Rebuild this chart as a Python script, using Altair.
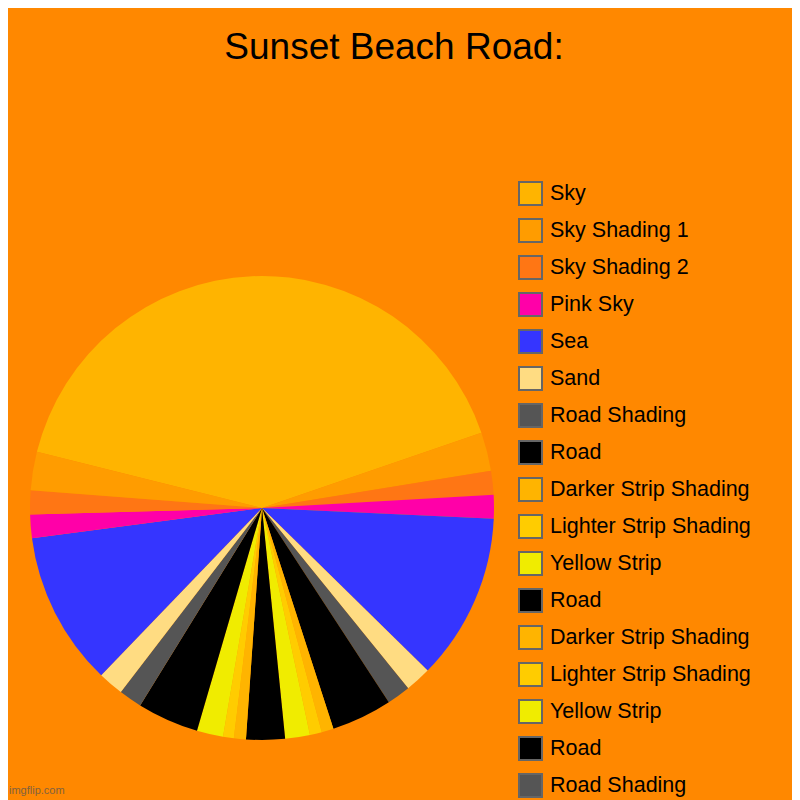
import math
import pandas as pd
import altair as alt

title_text = "Sunset Beach Road:"
watermark = "imgflip.com"

# slices in drawing order (clockwise), sizes in degrees
names = [
    "Sky", "Sky Shading 1", "Sky Shading 2", "Pink Sky", "Sea", "Sand",
    "Road Shading", "Road", "Darker Strip Shading", "Lighter Strip Shading",
    "Yellow Strip", "Road", "Darker Strip Shading", "Lighter Strip Shading",
    "Yellow Strip", "Road", "Road Shading", "Sand", "Sea", "Pink Sky",
    "Sky Shading 2", "Sky Shading 1",
]
sizes = [
    147.0, 9.7, 6.0, 5.9, 41.8, 6.5,
    5.9, 15.2, 3.0, 3.0,
    6.2, 9.7, 3.0, 2.7,
    6.6, 15.4, 5.8, 6.4, 38.6, 5.9,
    6.0, 9.6,
]
palette = {
    "Sky": "#FFB400",
    "Sky Shading 1": "#FF9C00",
    "Sky Shading 2": "#FF7614",
    "Pink Sky": "#FF00A8",
    "Sea": "#3535FF",
    "Sand": "#FFDC82",
    "Road Shading": "#555555",
    "Road": "#000000",
    "Darker Strip Shading": "#FFB400",
    "Lighter Strip Shading": "#FFCC00",
    "Yellow Strip": "#F0EC00",
}

keys = [f"{i:02d}|{n}" for i, n in enumerate(names)]
df = pd.DataFrame({"key": keys, "idx": range(len(names)), "deg": sizes})

start = math.radians(284.0)

pie = alt.Chart(df).mark_arc(outerRadius=232).encode(
    x=alt.value(254),
    y=alt.value(500),
    theta=alt.Theta("deg:Q", stack=True,
                    scale=alt.Scale(range=[start, start + 2 * math.pi])),
    order=alt.Order("idx:Q"),
    color=alt.Color(
        "key:N",
        scale=alt.Scale(domain=keys, range=[palette[n] for n in names]),
        legend=alt.Legend(
            orient="none", legendX=510, legendY=173, title=None, padding=0,
            symbolType="square", symbolSize=529, symbolStrokeColor="#666666",
            symbolStrokeWidth=2, symbolOpacity=1,
            labelExpr="split(datum.label, '|')[1]",
            labelFontSize=21.5, labelColor="#000000", labelOffset=7,
            labelLimit=400, rowPadding=6,
        ),
    ),
)

title = alt.Chart(pd.DataFrame({"t": [title_text]})).mark_text(
    fontSize=37, color="#000000", align="center", baseline="alphabetic"
).encode(text="t:N", x=alt.value(386), y=alt.value(51))

mark = alt.Chart(pd.DataFrame({"t": [watermark]})).mark_text(
    fontSize=11, color="#555555", opacity=0.75, align="left", baseline="alphabetic"
).encode(text="t:N", x=alt.value(1), y=alt.value(786))

chart = (pie + title + mark).properties(
    width=784, height=792, padding=0, background="#FF8800",
    autosize=alt.AutoSizeParams(type="none"),
).configure(font="Liberation Sans").configure_view(strokeWidth=0)

chart.save("out.html", embed_options={"renderer": "svg", "actions": False})
